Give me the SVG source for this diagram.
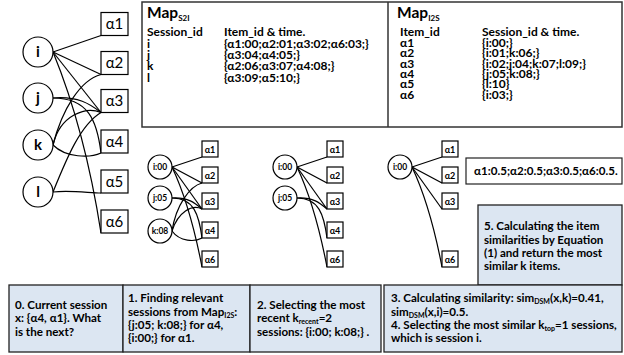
<svg xmlns="http://www.w3.org/2000/svg" width="624" height="355" viewBox="0 0 624 355">
<style>
text{font-family:Lato,"Noto Sans","DejaVu Sans",sans-serif;fill:#000}
.sess circle,.item rect{fill:#fff;stroke:#000;stroke-width:1.2}
.edges path{fill:none;stroke:#000;stroke-width:1.2}
.panel{fill:#fff;stroke:#333;stroke-width:1.5}
.step{fill:#DCE6F2;stroke:#222;stroke-width:1.3}
.sl{font-size:15px;font-weight:bold;text-anchor:middle}
.il{font-size:15px;text-anchor:middle}
.ss{font-size:8.5px;font-weight:bold;text-anchor:middle}
.is{font-size:9px;font-weight:bold;text-anchor:middle}
.tt{font-size:15.5px;font-weight:bold}
.tb{font-size:12px;font-weight:bold}
.st{font-size:11.6px;font-weight:bold}
</style>
<rect width="624" height="355" fill="#fff"/>

<g id="main-edges" class="edges">
<path d="M53,52 L101,35.5"/>
<path d="M53,52 L101,74.5"/>
<path d="M53,52 L101,112.5"/>
<path d="M53,52 Q85,130 101,233"/>
<path d="M53,98 C78,96 90,104 101,112.5"/>
<path d="M53,98 C88,98 97,120 101,153"/>
<path d="M53,145 C62,110 80,80 101,74.5"/>
<path d="M53,145 C60,115 86,106 101,112.5"/>
<path d="M53,145 C66,158 90,158 101,153"/>
<path d="M53,192 C66,160 80,125 101,112.5"/>
<path d="M53,192 C70,190 90,193 101,193"/>
</g>
<g id="s-i" class="sess"><circle cx="38" cy="52" r="15"/><text class="sl" x="38" y="57">i</text></g>
<g id="s-j" class="sess"><circle cx="38" cy="98" r="15"/><text class="sl" x="38" y="103">j</text></g>
<g id="s-k" class="sess"><circle cx="38" cy="145" r="15"/><text class="sl" x="38" y="150">k</text></g>
<g id="s-l" class="sess"><circle cx="38" cy="192" r="15"/><text class="sl" x="38" y="197">l</text></g>
<g id="a1" class="item"><rect x="101" y="12.5" width="27" height="23"/><text class="il" x="114.5" y="29">α1</text></g>
<g id="a2" class="item"><rect x="101" y="51.5" width="27" height="23"/><text class="il" x="114.5" y="68">α2</text></g>
<g id="a3" class="item"><rect x="101" y="89.5" width="27" height="23"/><text class="il" x="114.5" y="106">α3</text></g>
<g id="a4" class="item"><rect x="101" y="130" width="27" height="23"/><text class="il" x="114.5" y="146.5">α4</text></g>
<g id="a5" class="item"><rect x="101" y="170" width="27" height="23"/><text class="il" x="114.5" y="186.5">α5</text></g>
<g id="a6" class="item"><rect x="101" y="210" width="27" height="23"/><text class="il" x="114.5" y="226.5">α6</text></g>

<g id="maps">
<rect class="panel" x="142" y="2" width="480" height="125"/>
<line x1="388" y1="2" x2="388" y2="127" stroke="#333" stroke-width="1.5"/>
<text class="tt" x="147" y="18">Map<tspan font-size="8" dy="3">S2I</tspan></text>
<text class="tb" x="147" y="35.5">Session_id</text><text class="tb" x="224" y="35.5">Item_id &amp; time.</text>
<text class="tb" x="147" y="47.5">i</text><text class="tb" x="224" y="47.5">{α1:00;α2:01;α3:02;α6:03;}</text>
<text class="tb" x="147" y="58.8">j</text><text class="tb" x="224" y="58.8">{α3:04;α4:05;}</text>
<text class="tb" x="147" y="70.2">k</text><text class="tb" x="224" y="70.2">{α2:06;α3:07;α4:08;}</text>
<text class="tb" x="147" y="81.5">l</text><text class="tb" x="224" y="81.5">{α3:09;α5:10;}</text>
<text class="tt" x="397" y="18">Map<tspan font-size="8" dy="3">I2S</tspan></text>
<text class="tb" x="400" y="35.5">Item_id</text><text class="tb" x="482" y="35.5">Session_id &amp; time.</text>
<text class="tb" x="400" y="46.7">α1</text><text class="tb" x="482" y="46.7">{i:00;}</text>
<text class="tb" x="400" y="57.3">α2</text><text class="tb" x="482" y="57.3">{i:01;k:06;}</text>
<text class="tb" x="400" y="67.5">α3</text><text class="tb" x="482" y="67.5">{i:02;j:04;k:07;l:09;}</text>
<text class="tb" x="400" y="78">α4</text><text class="tb" x="482" y="78">{j:05;k:08;}</text>
<text class="tb" x="400" y="88.3">α5</text><text class="tb" x="482" y="88.3">{l:10}</text>
<text class="tb" x="400" y="98.5">α6</text><text class="tb" x="482" y="98.5">{i:03;}</text>
</g>

<g id="g2-edges" class="edges">
<path d="M172,167 L202,157"/>
<path d="M172,167 L202,183"/>
<path d="M172,167 L202,209"/>
<path d="M172,167 Q190,205 202,267"/>
<path d="M172,198 C188,197 195,203 202,209"/>
<path d="M172,198 C194,198 199,215 202,238"/>
<path d="M172,231 C176,205 190,186 202,183"/>
<path d="M172,231 C178,212 192,204 202,209"/>
<path d="M172,231 C180,242 195,242 202,238"/>
</g>
<g id="g2-i" class="sess"><circle cx="160" cy="167" r="12"/><text class="ss" x="160" y="170">i:00</text></g>
<g id="g2-j" class="sess"><circle cx="160" cy="198" r="12"/><text class="ss" x="160" y="201">j:05</text></g>
<g id="g2-k" class="sess"><circle cx="160" cy="231" r="12"/><text class="ss" x="160" y="234">k:08</text></g>
<g id="g2-a1" class="item"><rect x="202" y="141" width="16" height="16"/><text class="is" x="210" y="153">α1</text></g>
<g id="g2-a2" class="item"><rect x="202" y="167" width="16" height="16"/><text class="is" x="210" y="179">α2</text></g>
<g id="g2-a3" class="item"><rect x="202" y="193" width="16" height="16"/><text class="is" x="210" y="205">α3</text></g>
<g id="g2-a4" class="item"><rect x="202" y="222" width="16" height="16"/><text class="is" x="210" y="234">α4</text></g>
<g id="g2-a6" class="item"><rect x="202" y="251" width="16" height="16"/><text class="is" x="210" y="263">α6</text></g>

<g id="g3-edges" class="edges">
<path d="M297,167 L327,157"/>
<path d="M297,167 L327,183"/>
<path d="M297,167 L327,209"/>
<path d="M297,167 Q315,205 327,267"/>
<path d="M297,198 C313,197 320,203 327,209"/>
<path d="M297,198 C319,198 324,215 327,238"/>
</g>
<g id="g3-i" class="sess"><circle cx="285" cy="167" r="12"/><text class="ss" x="285" y="170">i:00</text></g>
<g id="g3-j" class="sess"><circle cx="285" cy="198" r="12"/><text class="ss" x="285" y="201">j:05</text></g>
<g id="g3-a1" class="item"><rect x="327" y="141" width="16" height="16"/><text class="is" x="335" y="153">α1</text></g>
<g id="g3-a2" class="item"><rect x="327" y="167" width="16" height="16"/><text class="is" x="335" y="179">α2</text></g>
<g id="g3-a3" class="item"><rect x="327" y="193" width="16" height="16"/><text class="is" x="335" y="205">α3</text></g>
<g id="g3-a4" class="item"><rect x="327" y="222" width="16" height="16"/><text class="is" x="335" y="234">α4</text></g>
<g id="g3-a6" class="item"><rect x="327" y="251" width="16" height="16"/><text class="is" x="335" y="263">α6</text></g>

<g id="g4-edges" class="edges">
<path d="M412,167 L442,157"/>
<path d="M412,167 L442,183"/>
<path d="M412,167 L442,209"/>
<path d="M412,167 Q430,205 442,267"/>
</g>
<g id="g4-i" class="sess"><circle cx="400" cy="167" r="12"/><text class="ss" x="400" y="170">i:00</text></g>
<g id="g4-a1" class="item"><rect x="442" y="141" width="16" height="16"/><text class="is" x="450" y="153">α1</text></g>
<g id="g4-a2" class="item"><rect x="442" y="167" width="16" height="16"/><text class="is" x="450" y="179">α2</text></g>
<g id="g4-a3" class="item"><rect x="442" y="193" width="16" height="16"/><text class="is" x="450" y="205">α3</text></g>
<g id="g4-a6" class="item"><rect x="442" y="251" width="16" height="16"/><text class="is" x="450" y="263">α6</text></g>

<g id="result">
<rect x="466" y="158" width="156" height="26" fill="#fff" stroke="#222" stroke-width="1.2"/>
<text class="st" x="474" y="175">α1:0.5;α2:0.5;α3:0.5;α6:0.5.</text>
</g>

<g id="step5">
<rect class="step" x="478" y="205" width="144" height="80"/>
<text class="st" x="484" y="230">5. Calculating the item</text>
<text class="st" x="484" y="244">similarities by Equation</text>
<text class="st" x="484" y="257">(1) and return the most</text>
<text class="st" x="484" y="270">similar k items.</text>
</g>

<g id="step0">
<rect class="step" x="9" y="285" width="114" height="67"/>
<text class="st" x="15" y="309">0. Current session</text>
<text class="st" x="15" y="322">x: {α4, α1}. What</text>
<text class="st" x="15" y="336">is the next?</text>
</g>
<g id="step1">
<rect class="step" x="123" y="285" width="127" height="67"/>
<text class="st" x="128" y="302">1. Finding relevant</text>
<text class="st" x="128" y="316">sessions from Map<tspan font-size="7" dy="2">I2S</tspan><tspan dy="-2">:</tspan></text>
<text class="st" x="128" y="329">{j:05; k:08;} for α4,</text>
<text class="st" x="128" y="342">{i:00;} for α1.</text>
</g>
<g id="step2">
<rect class="step" x="250" y="285" width="131" height="67"/>
<text class="st" x="257" y="309">2. Selecting the most</text>
<text class="st" x="257" y="322">recent k<tspan font-size="7" dy="2">recent</tspan><tspan dy="-2">=2</tspan></text>
<text class="st" x="257" y="336">sessions: {i:00; k:08;} .</text>
</g>
<g id="step34">
<rect class="step" x="384" y="285" width="238" height="67"/>
<text class="st" x="391" y="302">3. Calculating similarity: sim<tspan font-size="7" dy="2">DSM</tspan><tspan dy="-2">(x,k)=0.41,</tspan></text>
<text class="st" x="391" y="316">sim<tspan font-size="7" dy="2">DSM</tspan><tspan dy="-2">(x,i)=0.5.</tspan></text>
<text class="st" x="391" y="329">4. Selecting the most similar k<tspan font-size="7" dy="2">top</tspan><tspan dy="-2">=1 sessions,</tspan></text>
<text class="st" x="391" y="342">which is session i.</text>
</g>
</svg>
